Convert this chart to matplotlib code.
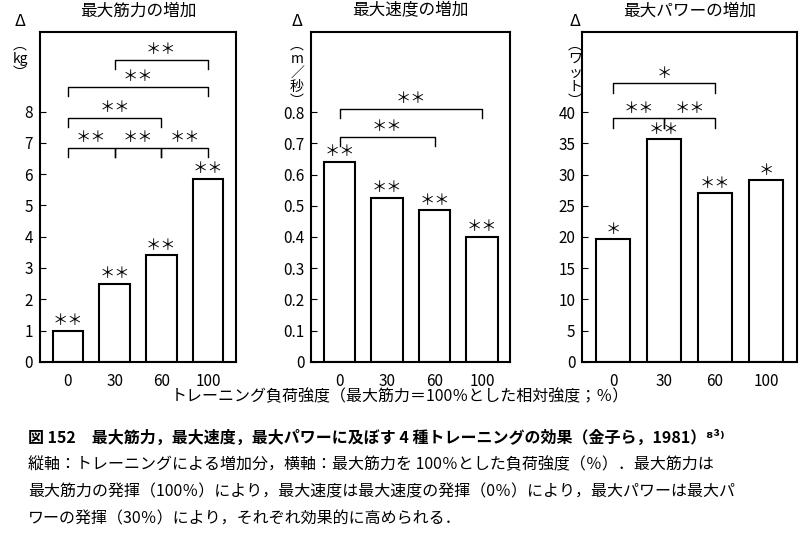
import matplotlib.pyplot as plt

plt.rcParams['font.family'] = ['Noto Sans CJK JP', 'DejaVu Sans']

# ── データ ──
loads = ['0', '30', '60', '100']
strength = [1.0, 2.5, 3.4, 5.85]
speed = [0.64, 0.525, 0.485, 0.40]
power = [19.7, 35.7, 27.0, 29.1]
strength_sig = ['＊＊', '＊＊', '＊＊', '＊＊']
speed_sig = ['＊＊', '＊＊', '＊＊', '＊＊']
power_sig = ['＊', '＊＊', '＊＊', '＊']

fig = plt.figure(figsize=(8, 5.36), dpi=100)

panels = [
    dict(rect=[0.05, 0.325, 0.245, 0.615], vals=strength, sig=strength_sig,
         title='最大筋力の増加', ylim=10.54, ticks=range(0, 9),
         off=0.05, tick=0.3,
         brackets=[(0, 1, 6.85), (1, 2, 6.85), (2, 3, 6.85), (0, 2, 7.8), (0, 3, 8.8), (1, 3, 9.65)],
         bsig=['＊＊'] * 6),
    dict(rect=[0.389, 0.325, 0.249, 0.615], vals=speed, sig=speed_sig,
         title='最大速度の増加', ylim=1.056, ticks=[i / 10 for i in range(9)],
         off=0.005, tick=0.03,
         brackets=[(0, 2, 0.72), (0, 3, 0.81)], bsig=['＊＊'] * 2),
    dict(rect=[0.728, 0.325, 0.268, 0.615], vals=power, sig=power_sig,
         title='最大パワーの増加', ylim=52.8, ticks=range(0, 45, 5),
         off=0.2, tick=1.5,
         brackets=[(0, 1, 39), (1, 2, 39), (0, 2, 44.6)], bsig=['＊＊', '＊＊', '＊']),
]

for p in panels:
    ax = fig.add_axes(p['rect'])
    x = range(len(loads))
    ax.bar(x, p['vals'], width=0.66, color='white', edgecolor='black', linewidth=1.5)
    for xi, v, s in zip(x, p['vals'], p['sig']):
        ax.text(xi, v + p['off'], s, ha='center', va='bottom', fontsize=11)
    for (a, b, y), s in zip(p['brackets'], p['bsig']):
        ax.plot([a, a, b, b], [y - p['tick'], y, y, y - p['tick']], color='black', lw=1)
        ax.text((a + b) / 2, y + p['off'], s, ha='center', va='bottom', fontsize=11)
    ax.set_xlim(-0.6, 3.6)
    ax.set_ylim(0, p['ylim'])
    ax.set_xticks(list(x))
    ax.set_xticklabels(loads, fontsize=11)
    ax.set_yticks(list(p['ticks']))
    ax.set_yticklabels([f'{t:g}' for t in p['ticks']], fontsize=11)
    ax.tick_params(direction='in', length=4, pad=5)
    ax.tick_params(axis='x', length=0, pad=8)
    for s in ax.spines.values():
        s.set_linewidth(1.5)
    ax.set_title(p['title'], fontsize=12, pad=12)

# y軸ラベル（縦書き）
units = [(20, '︵\nkg\n︶'), (297, '︵\nm\n／\n秒\n︶'), (575, '︵\nワ\nッ\nト\n︶')]
for xp, u in units:
    fig.text(xp / 800, 1 - 22 / 536, 'Δ', fontsize=12, style='italic', ha='center', va='center')
    fig.text(xp / 800, 1 - 38 / 536, u, fontsize=10, ha='center', va='top', linespacing=1.0)

fig.text(0.5, 1 - 397 / 536, 'トレーニング負荷強度（最大筋力＝100％とした相対強度；％）',
         ha='center', va='center', fontsize=11.5)

caption = [
    ('図 152　最大筋力，最大速度，最大パワーに及ぼす 4 種トレーニングの効果（金子ら，1981）⁸³⁾', 'bold'),
    ('縦軸：トレーニングによる増加分，横軸：最大筋力を 100％とした負荷強度（％）．最大筋力は', 'normal'),
    ('最大筋力の発揮（100％）により，最大速度は最大速度の発揮（0％）により，最大パワーは最大パ', 'normal'),
    ('ワーの発揮（30％）により，それぞれ効果的に高められる．', 'normal'),
]
for i, (line, w) in enumerate(caption):
    fig.text(28 / 800, 1 - (438 + i * 27) / 536, line, fontsize=11.5, fontweight=w,
             ha='left', va='center')

fig.savefig('out.png', dpi=100, facecolor='white')
